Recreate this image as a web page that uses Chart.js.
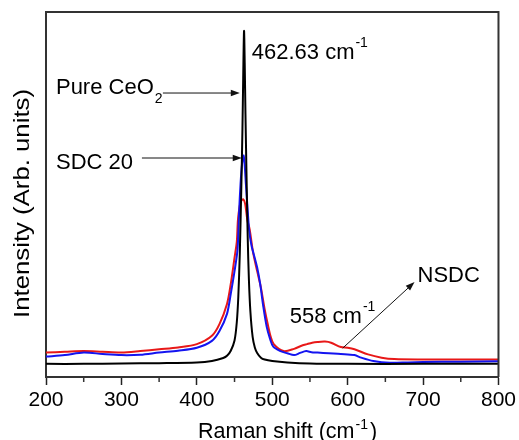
<!DOCTYPE html>
<html>
<head>
<meta charset="utf-8">
<script src="https://cdn.jsdelivr.net/npm/chart.js@4.4.0/dist/chart.umd.min.js"></script>
<style>
    html, body { margin: 0; padding: 0; background: #fff; }
    #wrap { width: 519px; height: 440px; position: relative; }
</style>
</head>
<body>
<div id="wrap"><canvas id="ramanChart"></canvas></div>
<script>
// Raman shift (cm-1) and intensity (arb. units, 0-100)
const ceo2Shift = [200, 250, 300, 350, 400, 420, 435, 440, 445, 450, 453, 455, 457, 459, 460.5, 461.5, 462.6, 463.5, 464.5, 466, 467.5, 469, 471, 474, 477, 480, 485, 490, 500, 520, 550, 600, 700, 800];
const ceo2Intensity = [3.6, 3.6, 3.7, 3.8, 4.0, 4.4, 5.2, 5.8, 7.2, 10, 15, 22, 34, 52, 68, 82, 94.8, 86, 72, 54, 38, 27, 18, 11, 8, 6.6, 5.3, 4.8, 4.4, 4.0, 3.7, 3.6, 3.6, 3.6];

const sdcShift = [200, 225, 250, 275, 300, 325, 350, 375, 400, 420, 430, 440, 445, 450, 454, 456, 458, 460, 462, 463.5, 465, 467, 469.5, 472.5, 475, 480, 484, 488, 492.6, 497, 501.4, 511, 520, 529, 537, 545, 552, 560, 575, 591, 609, 618, 634, 656, 680, 700, 750, 800];
const sdcIntensity = [5.6, 6.0, 6.7, 6.3, 6.0, 6.1, 6.7, 7.2, 8.0, 9.9, 12.6, 17.3, 22.8, 29, 35, 45, 53, 58.5, 60.7, 58, 53, 47, 40, 36, 34, 30, 25.5, 19.5, 13.8, 10.5, 8.3, 7.1, 6.5, 6.0, 6.6, 7.1, 6.8, 6.7, 6.5, 6.3, 6.0, 5.3, 4.4, 3.9, 4.0, 4.1, 4.2, 4.3];

const nsdcShift = [200, 225, 250, 275, 300, 325, 350, 375, 400, 420, 430, 440, 445, 450, 453, 454.5, 457, 459, 461.5, 464, 467, 470, 474.7, 480, 485, 490, 494, 498, 502, 515, 529, 538, 546, 553, 560, 570, 578, 591, 600, 609, 627, 645, 662, 700, 750, 800];
const nsdcIntensity = [6.7, 6.9, 7.1, 6.9, 6.7, 7.1, 7.6, 8.1, 9.0, 11.3, 14.5, 20, 25.5, 32.7, 37, 43, 47, 48.3, 48.7, 47.5, 43, 40.5, 34, 29, 24.5, 18.5, 14.5, 11, 9.0, 7.1, 7.7, 8.5, 9.0, 9.4, 9.6, 9.7, 9.4, 8.2, 8.0, 7.6, 6.2, 5.3, 4.9, 4.8, 4.8, 4.8];

const xTicks = [200, 300, 400, 500, 600, 700, 800];
const xMinorTicks = [250, 350, 450, 550, 650, 750];

// annotation texts, anchored in data coordinates
const labels = [
    { text: '462.63 cm', sup: '-1', x: 472.8, y: 87.0 },
    { text: 'Pure CeO', sub: '2', x: 213.2, y: 77.5 },
    { text: 'SDC 20', x: 213.2, y: 57.0 },
    { text: '558 cm', sup: '-1', x: 523.2, y: 14.8 },
    { text: 'NSDC', x: 692.7, y: 26.0 }
];
const arrows = [
    { from: [355, 77.8], to: [457, 77.8] },
    { from: [327.2, 60], to: [459.6, 60] },
    { from: [593.4, 7.9], to: [688.7, 26.0] }
];

const FONT = '"Liberation Sans", Arial, sans-serif';

function toPoints(xs, ys) {
    return xs.map((x, i) => ({ x: x, y: ys[i] }));
}

function drawArrow(ctx, x1, y1, x2, y2) {
    const ang = Math.atan2(y2 - y1, x2 - x1);
    const len = 9, half = 3.2;
    ctx.strokeStyle = '#111';
    ctx.fillStyle = '#111';
    ctx.lineWidth = 1;
    ctx.beginPath();
    ctx.moveTo(x1, y1);
    ctx.lineTo(x2 - Math.cos(ang) * len * 0.8, y2 - Math.sin(ang) * len * 0.8);
    ctx.stroke();
    ctx.beginPath();
    ctx.moveTo(x2, y2);
    ctx.lineTo(x2 - Math.cos(ang) * len - Math.sin(ang) * half, y2 - Math.sin(ang) * len + Math.cos(ang) * half);
    ctx.lineTo(x2 - Math.cos(ang) * len + Math.sin(ang) * half, y2 - Math.sin(ang) * len - Math.cos(ang) * half);
    ctx.closePath();
    ctx.fill();
}

const annotationPlugin = {
    id: 'ramanAnnotations',
    afterDraw(chart) {
        const ctx = chart.ctx;
        const xs = chart.scales.x, ys = chart.scales.y;
        const left = xs.left, right = xs.right;
        const top = ys.top, bottom = ys.bottom;
        ctx.save();
        ctx.setLineDash([]);
        ctx.globalAlpha = 1;

        // frame (top and right edges) and minor ticks
        ctx.strokeStyle = '#333';
        ctx.lineWidth = 2;
        ctx.beginPath();
        ctx.moveTo(left, top);
        ctx.lineTo(right, top);
        ctx.lineTo(right, bottom);
        ctx.stroke();

        ctx.lineWidth = 1.5;
        xMinorTicks.forEach(v => {
            const px = xs.getPixelForValue(v);
            ctx.beginPath();
            ctx.moveTo(px, bottom);
            ctx.lineTo(px, bottom + 5);
            ctx.stroke();
        });

        // arrows
        arrows.forEach(a => {
            drawArrow(ctx,
                xs.getPixelForValue(a.from[0]), ys.getPixelForValue(a.from[1]),
                xs.getPixelForValue(a.to[0]), ys.getPixelForValue(a.to[1]));
        });

        // labels
        ctx.fillStyle = '#000';
        ctx.textBaseline = 'alphabetic';
        ctx.textAlign = 'left';
        labels.forEach(l => {
            const px = xs.getPixelForValue(l.x), py = ys.getPixelForValue(l.y);
            ctx.font = '22px ' + FONT;
            ctx.fillText(l.text, px, py);
            const w = ctx.measureText(l.text).width;
            ctx.font = '14px ' + FONT;
            if (l.sup) ctx.fillText(l.sup, px + w + 1, py - 12);
            if (l.sub) ctx.fillText(l.sub, px + w + 1, py + 9);
        });

        // x axis title with superscript
        let tx = 198;
        const ty = 438;
        ctx.font = '21.5px ' + FONT;
        ctx.fillText('Raman shift (cm', tx, ty);
        tx += ctx.measureText('Raman shift (cm').width;
        ctx.font = '14px ' + FONT;
        ctx.fillText('-1', tx + 1, ty - 9);
        tx += ctx.measureText('-1').width + 3;
        ctx.font = '21.5px ' + FONT;
        ctx.fillText(')', tx, ty);

        // y axis title
        ctx.translate(23, 203.5);
        ctx.rotate(-Math.PI / 2);
        ctx.font = '22px ' + FONT;
        const yTitle = 'Intensity (Arb. units)';
        const natural = ctx.measureText(yTitle).width;
        ctx.scale(229 / natural, 1);
        ctx.textAlign = 'center';
        ctx.textBaseline = 'middle';
        ctx.fillText(yTitle, 0, 0);

        ctx.restore();
    }
};

document.addEventListener('DOMContentLoaded', () => {
    const ctx = document.getElementById('ramanChart').getContext('2d');

    new Chart(ctx, {
        type: 'line',
        data: {
            datasets: [
                {
                    label: 'Pure CeO2',
                    data: toPoints(ceo2Shift, ceo2Intensity),
                    borderColor: '#000000',
                    borderWidth: 2,
                    pointRadius: 0,
                    tension: 0.3
                },
                {
                    label: 'SDC 20',
                    data: toPoints(sdcShift, sdcIntensity),
                    borderColor: '#1414f0',
                    borderWidth: 2,
                    pointRadius: 0,
                    tension: 0.3
                },
                {
                    label: 'NSDC',
                    data: toPoints(nsdcShift, nsdcIntensity),
                    borderColor: '#e81818',
                    borderWidth: 2,
                    pointRadius: 0,
                    tension: 0.3
                }
            ]
        },
        options: {
            responsive: true,
            maintainAspectRatio: false,
            animation: false,
            layout: { padding: { top: 12, right: 20, left: 0, bottom: 0 } },
            plugins: {
                legend: { display: false },
                tooltip: { enabled: false }
            },
            scales: {
                x: {
                    type: 'linear',
                    min: 200,
                    max: 800,
                    afterBuildTicks: (scale) => { scale.ticks = xTicks.map(v => ({ value: v })); },
                    ticks: {
                        color: '#000',
                        font: { family: FONT, size: 21 },
                        padding: 3,
                        maxRotation: 0
                    },
                    grid: {
                        drawOnChartArea: false,
                        tickLength: 8,
                        tickWidth: 1.5,
                        tickColor: '#222'
                    },
                    border: { color: '#333', width: 2 },
                    afterFit: (scale) => { scale.height = 63; }
                },
                y: {
                    min: 0,
                    max: 100,
                    ticks: { display: false },
                    grid: { display: false },
                    border: { color: '#333', width: 2 },
                    afterFit: (scale) => { scale.width = 46; }
                }
            }
        },
        plugins: [annotationPlugin]
    });
});
</script>
</body>
</html>
